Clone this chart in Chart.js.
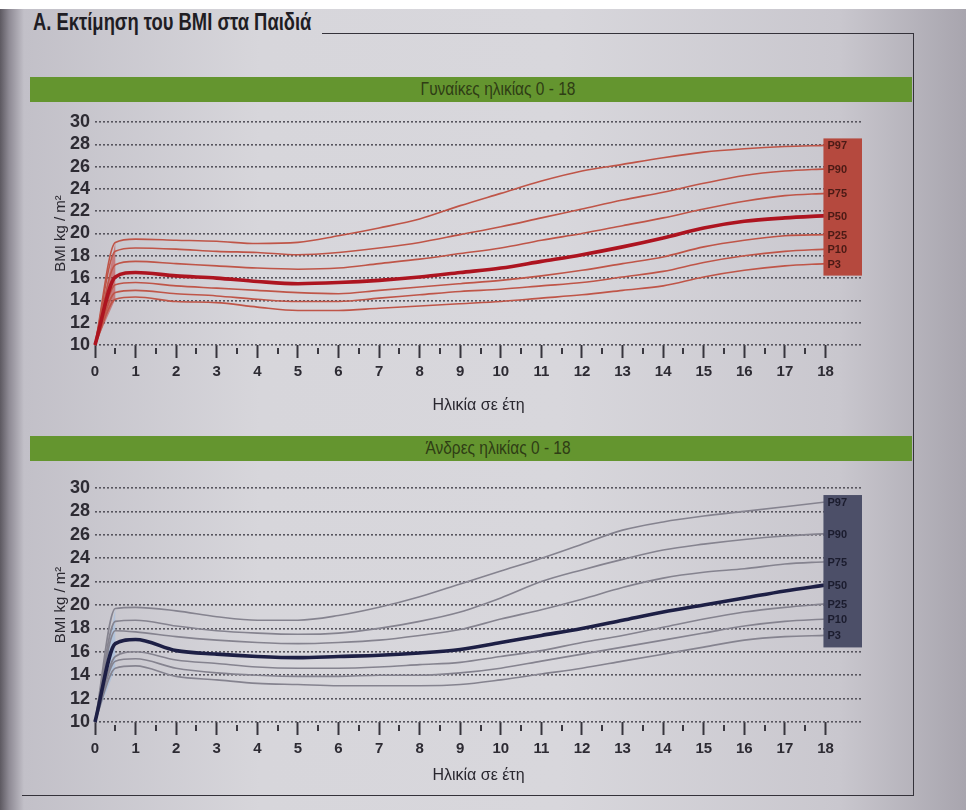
<!DOCTYPE html>
<html lang="el"><head><meta charset="utf-8">
<title>Εκτίμηση του BMI στα Παιδιά</title>
<script src="https://cdn.jsdelivr.net/npm/chart.js@4.4.1/dist/chart.umd.min.js"></script>
<style>
html,body{margin:0;padding:0}
body{width:966px;height:810px;position:relative;overflow:hidden;
 background:linear-gradient(90deg,#5d5961 0px,#8e8a94 9px,#c2c0c8 24px,#d7d6db 260px,#d8d7dc 560px,#c9c7ce 840px,#a8a5ae 966px);
 font-family:"Liberation Sans",Arial,sans-serif;}
.abs{position:absolute}
#whitetop{left:0;top:0;width:966px;height:9px;background:#ffffff}
#title{left:33px;top:9px;font-size:23px;font-weight:bold;color:#1f1d24;white-space:nowrap;transform:scaleX(0.8);transform-origin:0 0}
#hline{left:322px;top:33px;width:592px;height:0;border-top:1.5px solid #34323a}
#vline{left:913px;top:33px;width:0;height:763px;border-left:1.5px solid #34323a}
#bline{left:22px;top:795px;width:892px;height:0;border-top:1.5px solid #34323a}
.bar{left:30px;width:882px;height:25px;background:#64952f}
.bartext{left:498px;transform:translateX(-50%) scaleX(0.86);color:#2f3d15;font-size:18px;white-space:nowrap}
</style>
</head>
<body>
<div id="whitetop" class="abs"></div>
<div id="title" class="abs">Α. Εκτίμηση του BMI στα Παιδιά</div>
<div id="hline" class="abs"></div>
<div id="vline" class="abs"></div>
<div id="bline" class="abs"></div>

<div class="abs bar" style="top:77px"></div>
<div class="abs bartext" style="top:79px">Γυναίκες ηλικίας 0 - 18</div>
<div class="abs bar" style="top:436px"></div>
<div class="abs bartext" style="top:438px">Άνδρες ηλικίας 0 - 18</div>

<canvas id="girls" class="abs" width="966" height="320" style="left:0;top:104px"></canvas>
<canvas id="boys" class="abs" width="966" height="330" style="left:0;top:470px"></canvas>

<script>
// ---------- DATA ----------
const ages = [0, 0.5, 1, 2, 3, 4, 5, 6, 7, 8, 9, 10, 11, 12, 13, 14, 15, 16, 17, 18];
const percentileLabels = ['P97', 'P90', 'P75', 'P50', 'P25', 'P10', 'P3'];
const xTickValues = [0, 1, 2, 3, 4, 5, 6, 7, 8, 9, 10, 11, 12, 13, 14, 15, 16, 17, 18];
const yTickValues = [10, 12, 14, 16, 18, 20, 22, 24, 26, 28, 30];

// Girls (Γυναίκες) BMI percentiles
const girlsP97 = [10, 19.2, 19.5, 19.4, 19.3, 19.1, 19.2, 19.8, 20.5, 21.3, 22.5, 23.6, 24.7, 25.6, 26.2, 26.8, 27.3, 27.6, 27.8, 27.9];
const girlsP90 = [10, 18.4, 18.7, 18.6, 18.4, 18.3, 18.1, 18.3, 18.7, 19.2, 19.9, 20.6, 21.4, 22.2, 23.0, 23.7, 24.5, 25.2, 25.6, 25.8];
const girlsP75 = [10, 17.2, 17.5, 17.3, 17.1, 16.9, 16.8, 16.9, 17.3, 17.7, 18.2, 18.7, 19.4, 20.0, 20.7, 21.4, 22.2, 22.9, 23.4, 23.6];
const girlsP50 = [10, 16.1, 16.5, 16.2, 16.0, 15.7, 15.5, 15.6, 15.8, 16.1, 16.5, 16.9, 17.5, 18.1, 18.8, 19.6, 20.5, 21.1, 21.4, 21.6];
const girlsP25 = [10, 15.4, 15.6, 15.3, 15.1, 14.9, 14.7, 14.6, 14.9, 15.2, 15.5, 15.8, 16.2, 16.7, 17.3, 17.9, 18.8, 19.4, 19.8, 19.9];
const girlsP10 = [10, 14.7, 14.9, 14.6, 14.4, 14.1, 13.9, 13.9, 14.2, 14.5, 14.8, 15.0, 15.3, 15.6, 16.1, 16.6, 17.4, 18.0, 18.4, 18.6];
const girlsP3  = [10, 14.1, 14.3, 13.9, 13.8, 13.4, 13.1, 13.1, 13.3, 13.5, 13.7, 13.9, 14.2, 14.5, 14.9, 15.3, 16.1, 16.7, 17.1, 17.3];

// Boys (Άνδρες) BMI percentiles
const boysP97 = [10, 19.7, 19.8, 19.5, 19.0, 18.7, 18.7, 19.1, 19.8, 20.7, 21.8, 22.9, 24.0, 25.2, 26.4, 27.1, 27.6, 28.0, 28.4, 28.8];
const boysP90 = [10, 18.6, 18.7, 18.2, 17.8, 17.6, 17.5, 17.6, 18.0, 18.6, 19.4, 20.6, 22.0, 23.0, 23.9, 24.7, 25.2, 25.6, 25.9, 26.1];
const boysP75 = [10, 17.8, 17.7, 17.3, 17.0, 16.8, 16.7, 16.8, 17.0, 17.4, 17.9, 18.8, 19.6, 20.5, 21.5, 22.3, 22.8, 23.1, 23.5, 23.7];
const boysP50 = [10, 16.7, 17.05, 16.1, 15.8, 15.6, 15.5, 15.6, 15.7, 15.9, 16.2, 16.8, 17.4, 18.0, 18.7, 19.4, 20.0, 20.6, 21.2, 21.7];
const boysP25 = [10, 15.6, 16.0, 15.3, 15.0, 14.7, 14.6, 14.6, 14.7, 14.9, 15.1, 15.6, 16.1, 16.8, 17.4, 18.1, 18.8, 19.4, 19.8, 20.1];
const boysP10 = [10, 15.2, 15.4, 14.6, 14.2, 14.0, 13.9, 13.9, 14.0, 14.0, 14.2, 14.6, 15.2, 15.8, 16.4, 17.0, 17.6, 18.2, 18.6, 18.8];
const boysP3  = [10, 14.6, 14.8, 13.9, 13.6, 13.3, 13.2, 13.1, 13.1, 13.1, 13.2, 13.6, 14.1, 14.6, 15.2, 15.8, 16.4, 17.0, 17.3, 17.4];

const girlsSeries = [girlsP97, girlsP90, girlsP75, girlsP50, girlsP25, girlsP10, girlsP3];
const boysSeries  = [boysP97, boysP90, boysP75, boysP50, boysP25, boysP10, boysP3];

// ---------- CHART ----------
const FONT = "'Liberation Sans',Arial,sans-serif";
Chart.defaults.font.family = FONT;

const toPoints = arr => arr.map((v, i) => ({x: ages[i], y: v}));

const minorTicks = {
  id: 'minorTicks',
  afterDraw(chart) {
    const xs = chart.scales.x, area = chart.chartArea, ctx = chart.ctx;
    ctx.save();
    ctx.strokeStyle = '#3a3840';
    ctx.lineWidth = 2;
    for (let i = 0; i < xTickValues.length - 1; i++) {
      const m = (xTickValues[i] + xTickValues[i + 1]) / 2;
      const px = Math.round(xs.getPixelForValue(m));
      ctx.beginPath();
      ctx.moveTo(px, area.bottom + 3);
      ctx.lineTo(px, area.bottom + 9);
      ctx.stroke();
    }
    ctx.restore();
  }
};

const percentileBox = {
  id: 'percentileBox',
  afterDatasetsDraw(chart, args, opts) {
    const {ctx, scales: {x, y}} = chart;
    const ds = chart.data.datasets.filter(d => d.pLabel);
    const ends = ds.map(d => d.data[d.data.length - 1]);
    const lastAge = ages[ages.length - 1];
    const left = x.getPixelForValue(lastAge - 0.05);
    const right = x.getPixelForValue(lastAge + 0.9);
    const top = y.getPixelForValue(ends[0].y) - 7;
    const bottom = y.getPixelForValue(ends[ends.length - 1].y) + 12;
    ctx.save();
    ctx.fillStyle = opts.color;
    ctx.fillRect(left, top, right - left, bottom - top);
    ctx.font = 'bold 11px ' + FONT;
    ctx.fillStyle = opts.textColor;
    ctx.textBaseline = 'middle';
    ctx.textAlign = 'left';
    ds.forEach((d, i) => ctx.fillText(d.pLabel, left + 4, y.getPixelForValue(ends[i].y) + 1));
    ctx.restore();
  }
};

function makeChart(id, series, o) {
  const datasets = series.map((arr, i) => ({
    label: percentileLabels[i],
    pLabel: percentileLabels[i],
    data: toPoints(arr),
    borderColor: percentileLabels[i] === 'P50' ? o.mainColor : o.lineColor,
    borderWidth: percentileLabels[i] === 'P50' ? 3.6 : 1.6,
    pointRadius: 0,
    cubicInterpolationMode: 'monotone',
    fill: false,
    clip: 8,
    order: percentileLabels[i] === 'P50' ? 0 : 1
  }));
  // wedge between the first segments (birth -> 6 months)
  const top = series[0], bot = series[series.length - 1];
  datasets.push({
    label: 'wedge',
    data: [{x: ages[0], y: top[0]}, {x: ages[1], y: top[1]}, {x: ages[1], y: bot[1]}],
    borderWidth: 0,
    borderColor: 'rgba(0,0,0,0)',
    backgroundColor: o.wedgeColor,
    pointRadius: 0,
    tension: 0,
    fill: 'shape',
    clip: 8,
    order: 10
  });

  return new Chart(document.getElementById(id), {
    type: 'line',
    data: {datasets},
    options: {
      responsive: false,
      animation: false,
      events: [],
      layout: {padding: {top: 18, right: 104, left: 0, bottom: 0}},
      plugins: {
        legend: {display: false},
        tooltip: {enabled: false},
        percentileBox: {color: o.boxColor, textColor: o.boxText}
      },
      scales: {
        x: {
          type: 'linear',
          min: xTickValues[0],
          max: xTickValues[xTickValues.length - 1] + 0.9,
          afterFit(s) { s.height = o.xHeight; },
          afterBuildTicks(s) { s.ticks = xTickValues.map(v => ({value: v})); },
          ticks: {
            stepSize: 1,
            includeBounds: false,
            autoSkip: false,
            maxRotation: 0,
            padding: 5,
            color: '#2d2b33',
            font: {size: 15, weight: 'bold'}
          },
          grid: {
            drawOnChartArea: false,
            drawTicks: true,
            tickLength: 13,
            tickColor: '#36343c',
            tickWidth: 2
          },
          border: {display: false},
          title: {
            display: true,
            text: 'Ηλικία σε έτη',
            color: '#2a2830',
            font: {size: 16},
            padding: {top: 0, bottom: o.titlePad}
          }
        },
        y: {
          type: 'linear',
          min: yTickValues[0],
          max: yTickValues[yTickValues.length - 1],
          afterFit(s) { s.width = 95; },
          afterBuildTicks(s) { s.ticks = yTickValues.map(v => ({value: v})); },
          ticks: {
            stepSize: 2,
            autoSkip: false,
            padding: 5,
            color: '#2d2b33',
            font: {size: 18, weight: 'bold'}
          },
          grid: {
            drawTicks: false,
            color: '#57555e',
            lineWidth: 1.6
          },
          border: {display: false, dash: [2, 2]},
          title: {
            display: true,
            text: 'BMI kg / m²',
            color: '#2a2830',
            font: {size: 15},
            padding: {top: 52, bottom: 0}
          }
        }
      }
    },
    plugins: [minorTicks, percentileBox]
  });
}

makeChart('girls', girlsSeries, {
  lineColor: '#bf5548', mainColor: '#ad1420',
  boxColor: '#b5493e', boxText: '#4a1a15',
  wedgeColor: 'rgba(196,60,60,0.55)',
  xHeight: 79, titlePad: 9
});
makeChart('boys', boysSeries, {
  lineColor: '#85838f', mainColor: '#1d1f45',
  boxColor: '#4c4f68', boxText: '#1b1c2e',
  wedgeColor: 'rgba(160,190,225,0.6)',
  xHeight: 78, titlePad: 15
});
</script>
</body></html>
